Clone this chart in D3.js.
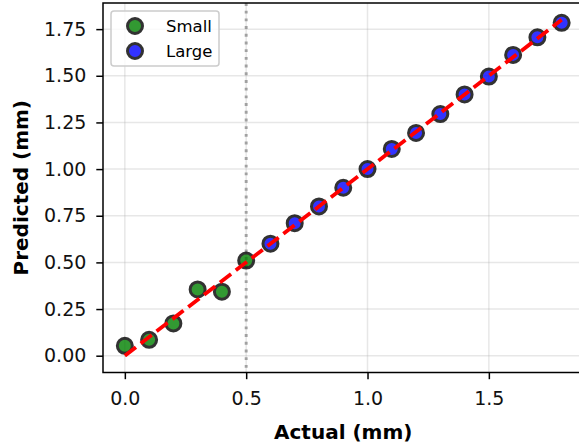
<!DOCTYPE html>
<html>
<head>
<meta charset="utf-8">
<script src="https://cdn.jsdelivr.net/npm/d3@7"></script>
<style>
  body { margin: 0; background: #fff; }
  svg { display: block; font-family: "DejaVu Sans", sans-serif; }
</style>
</head>
<body>
<div id="chart"></div>
<script>
var w = 579;
var h = 444;

// data
var smallActual = [0.0, 0.1, 0.2, 0.3, 0.4, 0.5];
var smallPredicted = [0.053, 0.085, 0.173, 0.355, 0.343, 0.51];
var largeActual = [0.6, 0.7, 0.8, 0.9, 1.0, 1.1, 1.2, 1.3, 1.4, 1.5, 1.6, 1.7, 1.8];
var largePredicted = [0.60, 0.71, 0.80, 0.90, 1.00, 1.108, 1.194, 1.295, 1.40, 1.496, 1.612, 1.706, 1.784];
var xTicks = [0.0, 0.5, 1.0, 1.5];
var yTicks = [0.0, 0.25, 0.5, 0.75, 1.0, 1.25, 1.5, 1.75];
var idealLine = [0, 1.8];
var threshold = 0.5;
var seriesNames = ["Small", "Large"];
var seriesColors = ["green", "blue"];

var plotLeft = 103, plotTop = 3, plotRight = 583.5, plotBottom = 372.5;

var svg = d3.select("#chart")
            .append("svg")
            .attr("width", w)
            .attr("height", h);

var xScale = d3.scaleLinear().domain([-0.09, 1.89]).range([plotLeft, plotRight]);
var yScale = d3.scaleLinear().domain([-0.09, 1.89]).range([plotBottom, plotTop]);

// grid
svg.append("g")
    .selectAll("line")
    .data(xTicks)
    .enter()
    .append("line")
    .attr("x1", d => xScale(d)).attr("x2", d => xScale(d))
    .attr("y1", plotTop).attr("y2", plotBottom)
    .attr("stroke", "#b0b0b0").attr("stroke-opacity", 0.3).attr("stroke-width", 1.5);
svg.append("g")
    .selectAll("line")
    .data(yTicks)
    .enter()
    .append("line")
    .attr("y1", d => yScale(d)).attr("y2", d => yScale(d))
    .attr("x1", plotLeft).attr("x2", plotRight)
    .attr("stroke", "#b0b0b0").attr("stroke-opacity", 0.3).attr("stroke-width", 1.5);

// threshold line
svg.append("line")
    .attr("x1", xScale(threshold)).attr("x2", xScale(threshold))
    .attr("y1", plotTop).attr("y2", plotBottom)
    .attr("stroke", "gray").attr("stroke-opacity", 0.7)
    .attr("stroke-width", 2.9)
    .attr("stroke-dasharray", "2.9,4.8");

// points
function drawPoints(xs, ys, color) {
    svg.append("g")
        .selectAll("circle")
        .data(xs)
        .enter()
        .append("circle")
        .attr("cx", d => xScale(d))
        .attr("cy", (d, i) => yScale(ys[i]))
        .attr("r", 7.5)
        .attr("fill", color)
        .attr("stroke", "black")
        .attr("stroke-width", 3)
        .attr("opacity", 0.8);
}
drawPoints(smallActual, smallPredicted, seriesColors[0]);
drawPoints(largeActual, largePredicted, seriesColors[1]);

// ideal line
svg.append("line")
    .attr("x1", xScale(idealLine[0])).attr("y1", yScale(idealLine[0]))
    .attr("x2", xScale(idealLine[1])).attr("y2", yScale(idealLine[1]))
    .attr("stroke", "red")
    .attr("stroke-width", 3.8)
    .attr("stroke-dasharray", "14,6");

// axes
var xAxis = d3.axisBottom(xScale)
    .tickValues(xTicks)
    .tickFormat(d3.format(".1f"))
    .tickSize(6.7)
    .tickPadding(12);
var yAxis = d3.axisLeft(yScale)
    .tickValues(yTicks)
    .tickFormat(d3.format(".2f"))
    .tickSize(6.7)
    .tickPadding(10);

var gx = svg.append("g")
    .attr("transform", "translate(0," + plotBottom + ")")
    .call(xAxis);
var gy = svg.append("g")
    .attr("transform", "translate(" + plotLeft + ",0)")
    .call(yAxis);
[gx, gy].forEach(function(g) {
    g.select(".domain").remove();
    g.selectAll("line").attr("stroke", "black").attr("stroke-width", 1.5);
    g.selectAll("text")
        .attr("fill", "#111")
        .style("font-size", "19px")
        .style("font-family", "DejaVu Sans");
});

// frame
svg.append("rect")
    .attr("x", plotLeft).attr("y", plotTop)
    .attr("width", plotRight - plotLeft).attr("height", plotBottom - plotTop)
    .attr("fill", "none")
    .attr("stroke", "black")
    .attr("stroke-width", 1.5);

// labels
svg.append("text")
    .attr("x", (plotLeft + plotRight) / 2)
    .attr("y", 439)
    .attr("text-anchor", "middle")
    .style("font-size", "20px")
    .style("font-weight", "bold")
    .text("Actual (mm)");
svg.append("text")
    .attr("transform", "translate(28," + ((plotTop + plotBottom) / 2) + ") rotate(-90)")
    .attr("text-anchor", "middle")
    .style("font-size", "20px")
    .style("font-weight", "bold")
    .text("Predicted (mm)");

// legend
var legend = svg.append("g");
legend.append("rect")
    .attr("x", 111).attr("y", 11)
    .attr("width", 108).attr("height", 55)
    .attr("rx", 3)
    .attr("fill", "white").attr("fill-opacity", 0.8)
    .attr("stroke", "#cccccc").attr("stroke-width", 1.5);
var items = legend.selectAll(".item")
    .data(seriesNames)
    .enter()
    .append("g")
    .attr("class", "item")
    .attr("transform", (d, i) => "translate(135," + (26 + i * 25) + ")");
items.append("circle")
    .attr("r", 7.5)
    .attr("fill", (d, i) => seriesColors[i])
    .attr("stroke", "black")
    .attr("stroke-width", 3)
    .attr("opacity", 0.8);
items.append("text")
    .attr("x", 31)
    .attr("y", 6)
    .style("font-size", "16.5px")
    .text(d => d);
</script>
</body>
</html>
